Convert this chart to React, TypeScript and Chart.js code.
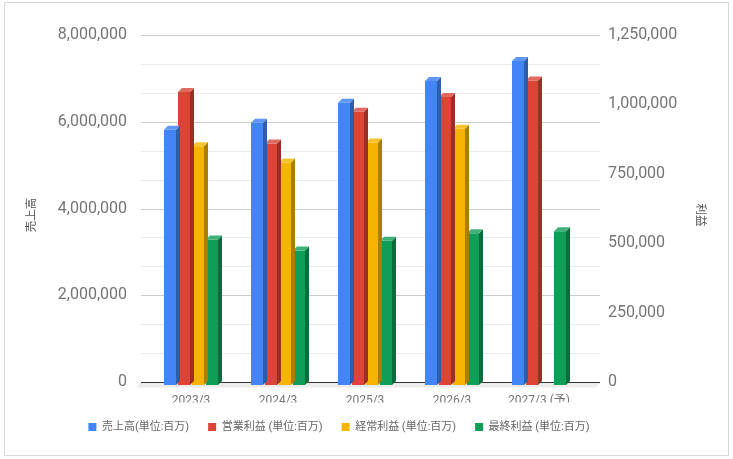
import React, { useEffect, useRef } from "react";
import { Chart, registerables } from "chart.js";

Chart.register(...registerables);

const categories = ["2023/3", "2024/3", "2025/3", "2026/3", "2027/3 (予)"];
const sales = [5885000, 6050000, 6510000, 7010000, 7470000];
const operatingProfit = [1056000, 870000, 985000, 1038000, 1097000];
const ordinaryProfit = [860000, 802000, 874000, 923000, null];
const netProfit = [524000, 485000, 520000, 547000, 554000];

const salesTicks = [0, 2000000, 4000000, 6000000, 8000000];
const profitTicks = [0, 250000, 500000, 750000, 1000000, 1250000];

const seriesLabels = [
  "売上高(単位:百万)",
  "営業利益 (単位:百万)",
  "経常利益 (単位:百万)",
  "最終利益 (単位:百万)",
];
const leftTitle = "売上高";
const rightTitle = "利益";

// front / side / top colours of the 3D bars
const faces = [
  { front: "#4285f4", side: "#2e5daa", top: "#5e97f6" },
  { front: "#db4437", side: "#992f26", top: "#e2695f" },
  { front: "#f4b400", side: "#aa7e00", top: "#f6c232" },
  { front: "#0f9d58", side: "#0a6d3d", top: "#3fb179" },
];

const FONT = "Roboto, 'Noto Sans CJK JP', sans-serif";
const DY = 3; // front plane sits a little below the back plane
const DEPTH = 4;

const backdrop = {
  id: "backdrop",
  beforeDraw(chart: any) {
    const { ctx, width, height } = chart;
    ctx.save();
    ctx.fillStyle = "#fff";
    ctx.fillRect(0, 0, width, height);
    ctx.strokeStyle = "#d9d9d9";
    ctx.lineWidth = 1;
    ctx.strokeRect(4.5, 2.5, 724, 453);
    ctx.restore();
  },
  beforeDatasetsDraw(chart: any) {
    const { ctx, chartArea } = chart;
    const y = chart.scales.y;
    const x0 = chartArea.left - 6.5;
    const x1 = chartArea.right + 17.5;
    const base = Math.round(y.getPixelForValue(0)) + 0.5;
    ctx.save();
    // floor
    ctx.fillStyle = "#ececec";
    ctx.beginPath();
    ctx.moveTo(x0, base);
    ctx.lineTo(x1, base);
    ctx.lineTo(x1 - 4.5, base + 5);
    ctx.lineTo(x0 - 4.5, base + 5);
    ctx.closePath();
    ctx.fill();
    // grid: 12 steps, every third one darker
    const max = salesTicks[salesTicks.length - 1];
    for (let i = 1; i <= 12; i++) {
      const py = Math.round(y.getPixelForValue((max * i) / 12)) + 0.5;
      ctx.strokeStyle = i % 3 === 0 ? "#cccccc" : "#ebebeb";
      ctx.beginPath();
      ctx.moveTo(x0, py);
      ctx.lineTo(x1, py);
      ctx.stroke();
    }
    ctx.strokeStyle = "#333";
    ctx.beginPath();
    ctx.moveTo(x0, base);
    ctx.lineTo(x1, base);
    ctx.stroke();
    ctx.restore();
  },
  beforeDatasetDraw(chart: any) {
    chart.ctx.save();
    chart.ctx.translate(0, DY);
  },
  afterDatasetDraw(chart: any, args: any) {
    const { ctx } = chart;
    const c = faces[args.index];
    const data = chart.data.datasets[args.index].data;
    args.meta.data.forEach((bar: any, i: number) => {
      if (data[i] == null) return;
      const { x, y, base, width } = bar.getProps(["x", "y", "base", "width"], true);
      const l = x - width / 2;
      const r = x + width / 2;
      ctx.fillStyle = c.side;
      ctx.beginPath();
      ctx.moveTo(r, y);
      ctx.lineTo(r + DEPTH, y - DEPTH);
      ctx.lineTo(r + DEPTH, base - DEPTH);
      ctx.lineTo(r, base);
      ctx.closePath();
      ctx.fill();
      ctx.fillStyle = c.top;
      ctx.beginPath();
      ctx.moveTo(l, y);
      ctx.lineTo(l + DEPTH, y - DEPTH);
      ctx.lineTo(r + DEPTH, y - DEPTH);
      ctx.lineTo(r, y);
      ctx.closePath();
      ctx.fill();
    });
    ctx.restore();
  },
  afterDraw(chart: any) {
    const { ctx } = chart;
    ctx.save();
    ctx.font = `11.5px ${FONT}`;
    ctx.fillStyle = "#555";
    ctx.textAlign = "center";
    ctx.textBaseline = "middle";
    ctx.translate(32, 215);
    ctx.rotate(-Math.PI / 2);
    ctx.fillText(leftTitle, 0, 0);
    ctx.restore();
    ctx.save();
    ctx.font = `11.5px ${FONT}`;
    ctx.fillStyle = "#555";
    ctx.textAlign = "center";
    ctx.textBaseline = "middle";
    ctx.translate(700, 215);
    ctx.rotate(Math.PI / 2);
    ctx.fillText(rightTitle, 0, 0);
    ctx.restore();
  },
};

const fmt = (v: number) => v.toLocaleString("en-US");

export default function App() {
  const canvasRef = useRef<HTMLCanvasElement>(null);
  const chartRef = useRef<Chart | null>(null);

  useEffect(() => {
    if (!canvasRef.current) return;
    if (chartRef.current) chartRef.current.destroy();

    const series = [sales, operatingProfit, ordinaryProfit, netProfit];

    chartRef.current = new Chart(canvasRef.current, {
      type: "bar",
      data: {
        labels: categories,
        datasets: series.map((d, i) => ({
          label: seriesLabels[i],
          data: d,
          yAxisID: i === 0 ? "y" : "y1",
          backgroundColor: faces[i].front,
          borderWidth: 0,
          categoryPercentage: 0.6437,
          barPercentage: 0.857,
        })),
      },
      options: {
        responsive: false,
        animation: false,
        layout: { padding: { left: 0, right: 55, top: 33, bottom: 16.5 } },
        plugins: {
          tooltip: { enabled: false },
          legend: {
            position: "bottom",
            labels: {
              boxWidth: 8,
              boxHeight: 8,
              padding: 19,
              color: "#666",
              font: { family: FONT, size: 11 },
            },
          },
        },
        scales: {
          x: {
            grid: { display: false, drawTicks: false },
            border: { display: false },
            ticks: { color: "#757575", font: { family: FONT, size: 12 }, padding: 11.5 },
            afterFit: (s: any) => {
              s.height = 20.5;
            },
          },
          y: {
            position: "left",
            min: 0,
            max: 8000000,
            grid: { display: false, drawTicks: false },
            border: { display: false },
            afterBuildTicks: (s: any) => {
              s.ticks = salesTicks.map((value) => ({ value }));
            },
            ticks: {
              color: "#757575",
              font: { family: FONT, size: 16 },
              padding: 20.5,
              callback: (v: any) => fmt(Number(v)),
            },
            afterFit: (s: any) => {
              s.width = 147.5;
            },
          },
          y1: {
            position: "right",
            min: 0,
            max: 1250000,
            grid: { display: false, drawTicks: false },
            border: { display: false },
            afterBuildTicks: (s: any) => {
              s.ticks = profitTicks.map((value) => ({ value }));
            },
            ticks: {
              color: "#757575",
              font: { family: FONT, size: 16 },
              padding: 25.5,
              callback: (v: any) => fmt(Number(v)),
            },
            afterFit: (s: any) => {
              s.width = 95.5;
            },
          },
        },
      },
      plugins: [backdrop],
    });

    return () => {
      if (chartRef.current) {
        chartRef.current.destroy();
        chartRef.current = null;
      }
    };
  }, []);

  return (
    <div style={{ position: "fixed", left: 0, top: 0, width: 733, height: 459, background: "#fff" }}>
      <canvas ref={canvasRef} width={733} height={459} style={{ display: "block" }} />
    </div>
  );
}
